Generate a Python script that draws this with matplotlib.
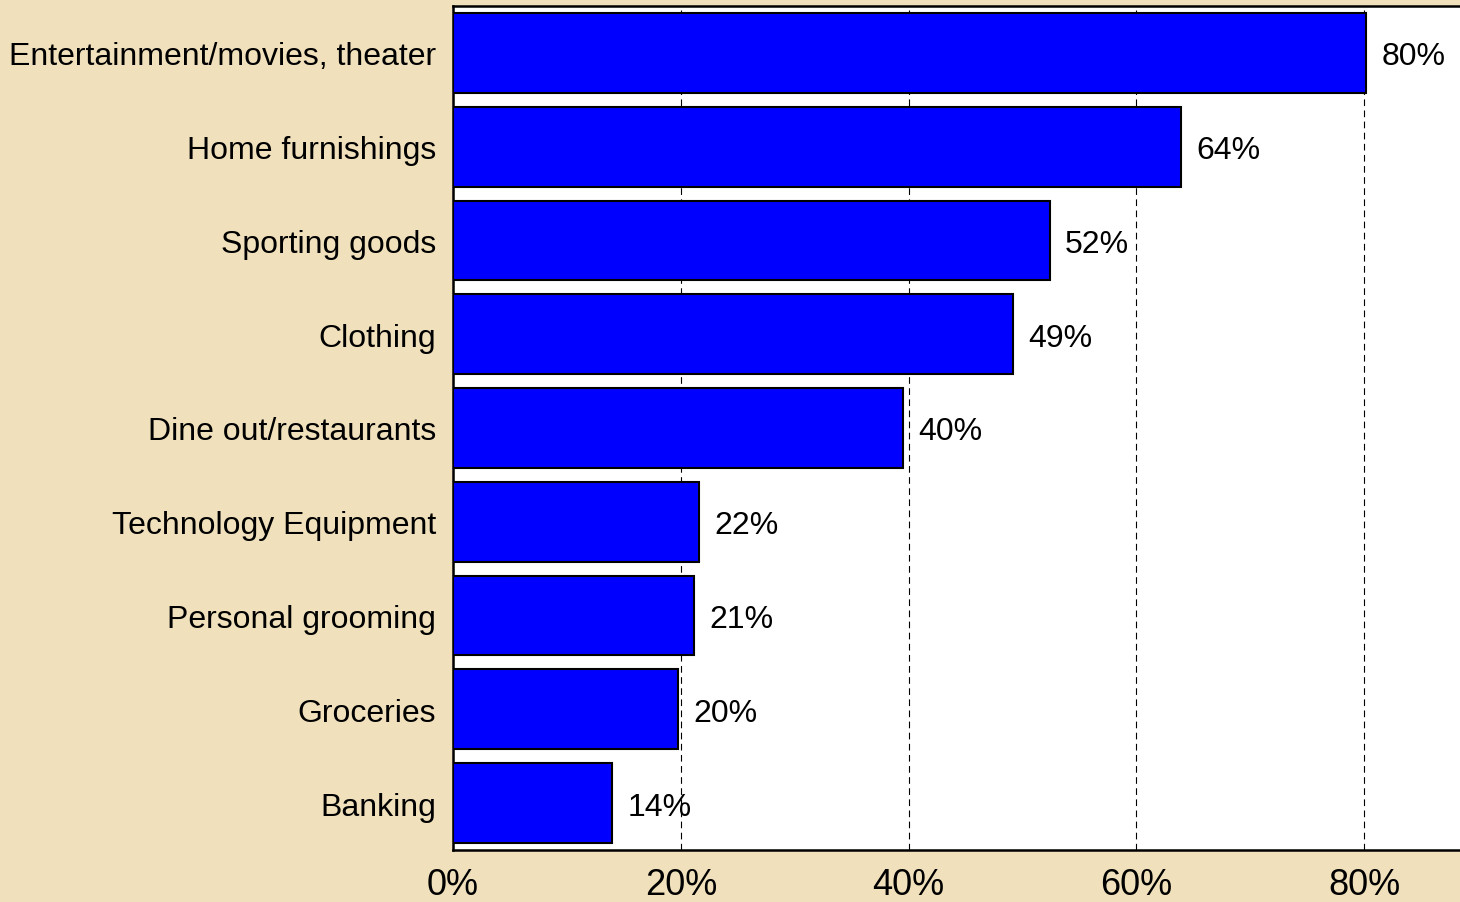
import matplotlib
matplotlib.use('Agg')
import matplotlib.pyplot as plt

plt.rcParams['font.family'] = ['Liberation Sans', 'DejaVu Sans']

categories = [
    'Entertainment/movies, theater',
    'Home furnishings',
    'Sporting goods',
    'Clothing',
    'Dine out/restaurants',
    'Technology Equipment',
    'Personal grooming',
    'Groceries',
    'Banking',
]
values = [80.2, 63.9, 52.4, 49.2, 39.5, 21.6, 21.2, 19.8, 14.0]
labels = ['80%', '64%', '52%', '49%', '40%', '22%', '21%', '20%', '14%']
ticks = [0, 20, 40, 60, 80]

BG = '#f0e0bb'

fig = plt.figure(figsize=(14.6, 9.03), dpi=100, facecolor=BG)
ax = fig.add_axes([453 / 1460, 1 - 851 / 903, 1 - 453 / 1460, 844 / 903])
ax.set_facecolor('white')

pos = range(len(categories))
ax.barh(pos, values, height=0.85, color='#0000ff', edgecolor='black',
        linewidth=1.5, zorder=3)

for y, v, lab in zip(pos, values, labels):
    ax.annotate(lab, (v, y), xytext=(11, 0), textcoords='offset points',
                va='center_baseline', ha='left', fontsize=23)

ax.set_xlim(0, 88.43)
ax.set_ylim(8.5, -0.5)
ax.set_xticks(ticks, labels=[f'{t}%' for t in ticks])
ax.set_yticks(list(pos), labels=categories)
ax.tick_params(axis='x', length=0, pad=12, labelsize=26)
ax.tick_params(axis='y', length=0, pad=12, labelsize=23)
for t in ax.get_yticklabels():
    t.set_verticalalignment('center_baseline')

ax.xaxis.grid(True, linestyle=(0, (6, 4)), color='black', linewidth=0.8,
              zorder=1)
ax.set_axisbelow(True)

for side in ['left', 'bottom', 'top']:
    ax.spines[side].set_linewidth(1.8)
    ax.spines[side].set_color('black')
ax.spines['right'].set_visible(False)

fig.savefig('out.png', dpi=100, facecolor=BG)
